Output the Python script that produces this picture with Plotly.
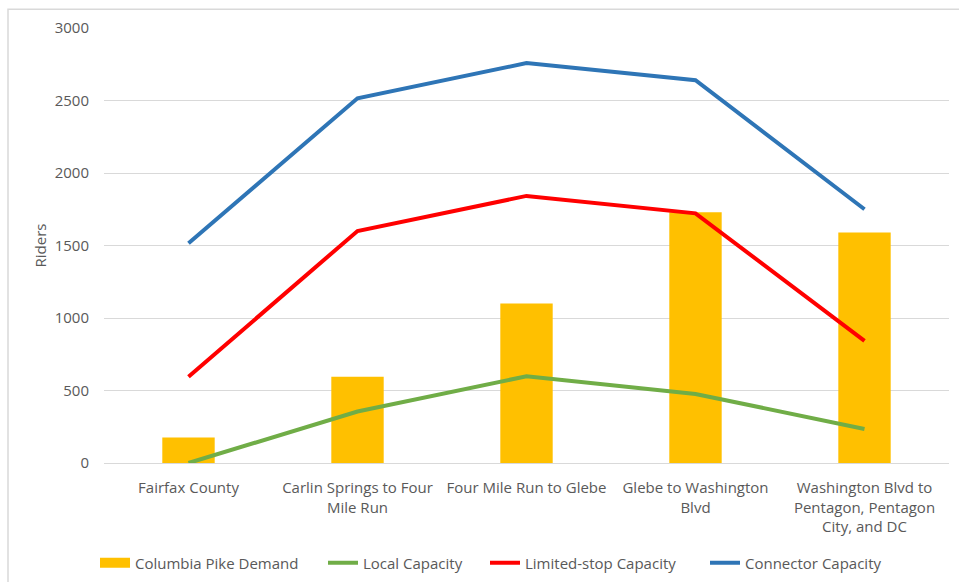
import plotly.graph_objects as go

categories = [
    "Fairfax County",
    "Carlin Springs to Four<br>Mile Run",
    "Four Mile Run to Glebe",
    "Glebe to Washington<br>Blvd",
    "Washington Blvd to<br>Pentagon, Pentagon<br>City, and DC",
]
demand = [175, 595, 1100, 1730, 1590]
local_capacity = [0, 355, 598, 476, 235]
limited_capacity = [595, 1600, 1842, 1722, 842]
connector_capacity = [1515, 2515, 2758, 2640, 1750]
y_ticks = [0, 500, 1000, 1500, 2000, 2500, 3000]

FONT = "Segoe UI, Open Sans, sans-serif"
GRAY = "#595959"
LW = 4
FS = 15

fig = go.Figure()
fig.add_trace(go.Bar(x=categories, y=demand, name="Columbia Pike Demand",
                     marker=dict(color="#FFC000", line=dict(width=0)),
                     showlegend=False, legendgroup="demand"))
# legend-only proxy so the legend swatch is a wide rectangle like the original
fig.add_trace(go.Scatter(x=[None], y=[None], name="Columbia Pike Demand", mode="lines",
                         line=dict(color="#FFC000", width=10), legendgroup="demand",
                         legend="legend"))
fig.add_trace(go.Scatter(x=categories, y=local_capacity, name="Local Capacity",
                         mode="lines", line=dict(color="#70AD47", width=LW), legend="legend2"))
fig.add_trace(go.Scatter(x=categories, y=limited_capacity, name="Limited-stop Capacity",
                         mode="lines", line=dict(color="#FF0000", width=LW), legend="legend3"))
fig.add_trace(go.Scatter(x=categories, y=connector_capacity, name="Connector Capacity",
                         mode="lines", line=dict(color="#2E75B6", width=LW), legend="legend4"))

W, H = 959, 582
def leg(px_x, px_y=563):
    return dict(xref="container", yref="container",
                x=px_x / W, xanchor="left",
                y=1 - px_y / H, yanchor="middle",
                orientation="h", font=dict(size=FS, color=GRAY),
                bgcolor="rgba(0,0,0,0)", itemwidth=30)

fig.update_layout(
    width=W, height=H,
    margin=dict(l=104, r=10, t=28, b=119, autoexpand=False),
    paper_bgcolor="white", plot_bgcolor="white",
    font=dict(family=FONT, size=FS, color=GRAY),
    bargap=0.69,
    showlegend=True,
    legend=leg(95), legend2=leg(323), legend3=leg(485), legend4=leg(705),
    xaxis=dict(showgrid=False, showline=False, ticks="", tickfont=dict(size=FS, color=GRAY),
               ticklabelstandoff=14, automargin=False),
    yaxis=dict(range=[0, 3000], tickvals=y_ticks, showgrid=True, gridcolor="#D9D9D9",
               gridwidth=1, zeroline=True, zerolinecolor="#D9D9D9", zerolinewidth=1,
               showline=False, ticks="", tickfont=dict(size=FS, color=GRAY),
               ticklabelstandoff=14, automargin=False,
               title=dict(text="Riders", font=dict(size=FS, color=GRAY), standoff=4)),
    shapes=[dict(type="rect", xref="paper", yref="paper",
                 x0=-0.1136, x1=1.05, y0=-0.4, y1=1.043,
                 line=dict(color="#D9D9D9", width=1.5), fillcolor="rgba(0,0,0,0)",
                 layer="below")],
)

fig.write_html("out.html")
